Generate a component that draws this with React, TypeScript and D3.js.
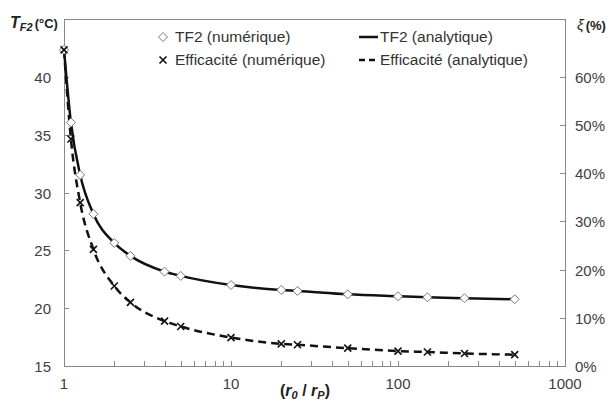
import React, { useEffect, useRef } from "react";
import * as d3 from "d3";

// r0 / rP
const ratios = [1, 1.1, 1.25, 1.5, 2, 2.5, 4, 5, 10, 20, 25, 50, 100, 150, 250, 500];
// TF2 (°C)
const tf2Values = [42.34, 36.05, 31.52, 28.15, 25.64, 24.52, 23.16, 22.79, 22.0, 21.57, 21.49, 21.2, 21.03, 20.94, 20.86, 20.77];
// Efficacité (%)
const effValues = [65.6, 47.1, 33.9, 24.2, 16.6, 13.2, 9.3, 8.2, 5.9, 4.6, 4.4, 3.7, 3.1, 2.9, 2.6, 2.35];

const leftTicks = [15, 20, 25, 30, 35, 40];
const rightTicks = [0, 10, 20, 30, 40, 50, 60];
const xTickLabels = [1, 10, 100, 1000];

const W = 610;
const H = 403;
const FONT = "Liberation Sans, Arial, sans-serif";
const AXIS = "#898989";
const TXT = "#404040";

const App = () => {
  const ref = useRef<SVGSVGElement>(null);

  useEffect(() => {
    const svg = d3.select(ref.current);
    svg.selectAll("*").remove();

    const left = 64, right = 565, top = 19, bottom = 366;

    const x = d3.scaleLog().domain([1, 1000]).range([left, right]);
    const y = d3.scaleLinear().domain([15, 45]).range([bottom, top]);
    const y2 = d3.scaleLinear().domain([0, 72]).range([bottom, top]);

    // plot frame
    svg.append("rect")
      .attr("x", left).attr("y", top)
      .attr("width", right - left).attr("height", bottom - top)
      .attr("fill", "none").attr("stroke", AXIS).attr("stroke-width", 1)
      .attr("shape-rendering", "crispEdges");

    // x ticks (inside)
    const minor: number[] = [];
    for (let d = 1; d < 1000; d *= 10) for (let k = 2; k <= 9; k++) minor.push(d * k);
    svg.append("g").selectAll("line")
      .data([...minor, 10, 100])
      .enter().append("line")
      .attr("x1", d => Math.round(x(d)) + 0.5).attr("x2", d => Math.round(x(d)) + 0.5)
      .attr("y1", bottom).attr("y2", bottom - 5)
      .attr("stroke", AXIS);

    svg.append("g").selectAll("text")
      .data(xTickLabels)
      .enter().append("text")
      .attr("x", d => x(d)).attr("y", bottom + 23)
      .attr("text-anchor", "middle")
      .style("font", `15px ${FONT}`).attr("fill", TXT)
      .text(d => d);

    // left ticks
    svg.append("g").selectAll("line")
      .data(leftTicks.slice(1))
      .enter().append("line")
      .attr("x1", left).attr("x2", left + 5)
      .attr("y1", d => Math.round(y(d)) + 0.5).attr("y2", d => Math.round(y(d)) + 0.5)
      .attr("stroke", AXIS);
    svg.append("g").selectAll("text")
      .data(leftTicks)
      .enter().append("text")
      .attr("x", left - 13).attr("y", d => y(d) + 6)
      .attr("text-anchor", "end")
      .style("font", `15px ${FONT}`).attr("fill", TXT)
      .text(d => d);

    // right ticks
    svg.append("g").selectAll("line")
      .data(rightTicks.slice(1))
      .enter().append("line")
      .attr("x1", right - 5).attr("x2", right)
      .attr("y1", d => Math.round(y2(d)) + 0.5).attr("y2", d => Math.round(y2(d)) + 0.5)
      .attr("stroke", AXIS);
    svg.append("g").selectAll("text")
      .data(rightTicks)
      .enter().append("text")
      .attr("x", right + 10).attr("y", d => y2(d) + 6)
      .style("font", `15px ${FONT}`).attr("fill", TXT)
      .text(d => `${d}%`);

    // axis titles
    const lt = svg.append("text").attr("x", 10).attr("y", 28)
      .style("font-family", FONT).attr("fill", "#222").attr("font-weight", "bold");
    lt.append("tspan").attr("font-style", "italic").attr("font-size", 16).text("T");
    lt.append("tspan").attr("font-style", "italic").attr("font-size", 11).attr("dy", 3).text("F2");
    lt.append("tspan").attr("font-size", 13).attr("dy", -3).attr("dx", 2).text("(°C)");

    const rt = svg.append("text").attr("x", 577).attr("y", 30)
      .style("font-family", FONT).attr("fill", "#222");
    rt.append("tspan").attr("font-style", "italic").attr("font-size", 15).text("ξ");
    rt.append("tspan").attr("font-weight", "bold").attr("font-size", 13).attr("dx", 2).text("(%)");

    const xt = svg.append("text").attr("x", 305).attr("y", 396)
      .attr("text-anchor", "middle")
      .style("font-family", FONT).attr("fill", "#222").attr("font-weight", "bold").attr("font-size", 16);
    xt.append("tspan").text("(");
    xt.append("tspan").attr("font-style", "italic").text("r");
    xt.append("tspan").attr("font-style", "italic").attr("font-size", 11).attr("dy", 3).text("0");
    xt.append("tspan").attr("dy", -3).text(" / ");
    xt.append("tspan").attr("font-style", "italic").text("r");
    xt.append("tspan").attr("font-style", "italic").attr("font-size", 11).attr("dy", 3).text("P");
    xt.append("tspan").attr("dy", -3).text(")");

    const tfData = ratios.map((r, i) => [r, tf2Values[i]] as [number, number]);
    const effData = ratios.map((r, i) => [r, effValues[i]] as [number, number]);

    const lineTf = d3.line<[number, number]>()
      .x(d => x(d[0])).y(d => y(d[1])).curve(d3.curveMonotoneX);
    const lineEff = d3.line<[number, number]>()
      .x(d => x(d[0])).y(d => y2(d[1])).curve(d3.curveMonotoneX);

    svg.append("path").attr("d", lineEff(effData))
      .attr("fill", "none").attr("stroke", "#111").attr("stroke-width", 2.5)
      .attr("stroke-dasharray", "8,5");
    svg.append("path").attr("d", lineTf(tfData))
      .attr("fill", "none").attr("stroke", "#111").attr("stroke-width", 2.5);

    const diamond = (cx: number, cy: number) =>
      `M${cx},${cy - 4.5}L${cx + 4.5},${cy}L${cx},${cy + 4.5}L${cx - 4.5},${cy}Z`;
    const cross = (cx: number, cy: number) =>
      `M${cx - 3.5},${cy - 3.5}L${cx + 3.5},${cy + 3.5}M${cx + 3.5},${cy - 3.5}L${cx - 3.5},${cy + 3.5}`;

    svg.append("g").selectAll("path")
      .data(tfData)
      .enter().append("path")
      .attr("d", d => diamond(x(d[0]), y(d[1])))
      .attr("fill", "#fff").attr("stroke", "#7a7a7a").attr("stroke-width", 1);

    svg.append("g").selectAll("path")
      .data(effData)
      .enter().append("path")
      .attr("d", d => cross(x(d[0]), y2(d[1])))
      .attr("fill", "none").attr("stroke", "#111").attr("stroke-width", 1.6);

    // legend
    const lg = svg.append("g").style("font", `15.5px ${FONT}`).attr("fill", "#333");
    lg.append("path").attr("d", diamond(163, 37))
      .attr("fill", "#fff").attr("stroke", "#7a7a7a");
    lg.append("text").attr("x", 175).attr("y", 42).text("TF2 (numérique)");
    lg.append("path").attr("d", cross(163, 60))
      .attr("fill", "none").attr("stroke", "#111").attr("stroke-width", 1.6);
    lg.append("text").attr("x", 175).attr("y", 65).text("Efficacité (numérique)");
    lg.append("line").attr("x1", 359).attr("x2", 378).attr("y1", 37).attr("y2", 37)
      .attr("stroke", "#111").attr("stroke-width", 2.5);
    lg.append("text").attr("x", 380).attr("y", 42).text("TF2 (analytique)");
    lg.append("line").attr("x1", 359).attr("x2", 378).attr("y1", 60).attr("y2", 60)
      .attr("stroke", "#111").attr("stroke-width", 2.5).attr("stroke-dasharray", "6,4");
    lg.append("text").attr("x", 380).attr("y", 65).text("Efficacité (analytique)");
  }, []);

  return (
    <svg ref={ref} width={W} height={H}
      style={{ position: "absolute", left: 0, top: 0, background: "#fff" }} />
  );
};

export default App;
